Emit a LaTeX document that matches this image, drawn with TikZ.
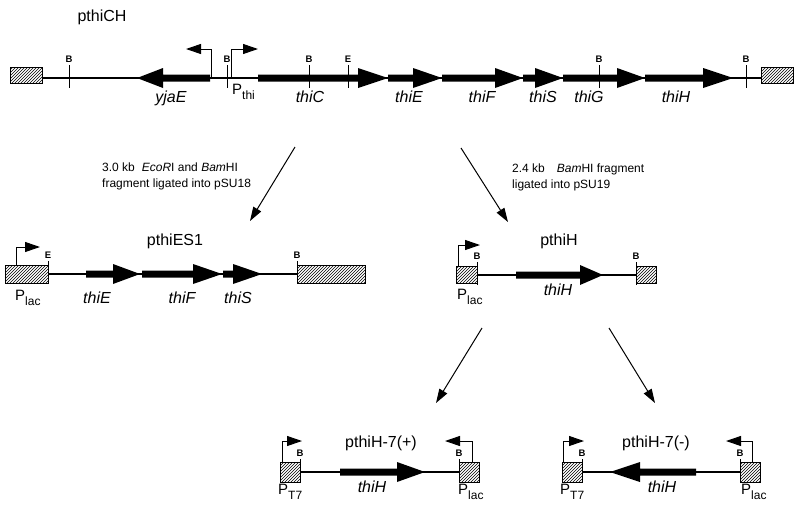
\documentclass[tikz,border=0pt]{standalone}
\usepackage{fontspec}
\setmainfont{Liberation Sans}
\usetikzlibrary{arrows.meta,patterns}

% gene arrow: start, head base, tip, y
\newcommand{\gene}[4]{\fill (#1,#4-3.5) -- (#2,#4-3.5) -- (#2,#4-10) -- (#3,#4) -- (#2,#4+10) -- (#2,#4+3.5) -- (#1,#4+3.5) -- cycle;}
% restriction site: name, x, y, letter
\newcommand{\site}[4]{\draw[cut] (#2,#3-13) -- (#2,#3+10); \node[sitelbl] (#1) at (#2,#3-19) {#4};}
% promoter: x, y, top, tip
\newcommand{\prom}[4]{\draw[promarrow] (#1,#2) |- (#4,#3);}
\newcommand{\prm}[1]{P\raisebox{-5pt}{\fontsize{12}{12}\selectfont #1}}

\begin{document}
\begin{tikzpicture}[x=1pt, y=-1pt,
    backbone/.style={line width=1.4pt},
    cut/.style={line width=0.7pt},
    hatchbox/.style={draw, line width=0.8pt, pattern=north east lines},
    promarrow/.style={line width=1pt, -{Triangle[length=15pt,width=10pt]}},
    clonearrow/.style={line width=1pt, -{Triangle[length=14pt,width=9pt]}},
    sitelbl/.style={font=\fontsize{9.5}{10}\selectfont\bfseries, inner sep=0},
    title/.style={font=\fontsize{16}{18}\selectfont, anchor=base, inner sep=0},
    genename/.style={font=\fontsize{16}{18}\selectfont\itshape, anchor=base, inner sep=0},
    promname/.style={font=\fontsize{15}{17}\selectfont, anchor=base west, inner sep=0},
    note/.style={font=\fontsize{12}{16}\selectfont, align=left, anchor=west, inner sep=0}]

    \useasboundingbox (0,0) rectangle (800,509);

        % pthiCH
    \node (pthiCH) [title] at (102,21) {pthiCH};
    \draw[backbone] (42,78) -- (761,78);
    \draw[hatchbox] (10,67) rectangle (42,83);
    \draw[hatchbox] (761,67) rectangle (793,83);
    \gene{210}{163}{137}{78}
    \gene{258}{358}{388}{78}
    \gene{388}{413}{442}{78}
    \gene{442}{495}{523}{78}
    \gene{523}{535}{563}{78}
    \gene{563}{617}{645}{78}
    \gene{645}{703}{733}{78}
    \prom{211}{78}{49}{186}
    \prom{231}{78}{49}{258}
    \site{ch-b1}{69}{78}{B}
    \site{ch-b2}{227}{78}{B}
    \site{ch-b3}{309}{78}{B}
    \site{ch-e1}{348}{78}{E}
    \site{ch-b4}{599}{78}{B}
    \site{ch-b5}{746}{78}{B}
    \node (ch-yjaE) [genename] at (171,102) {yjaE};
    \node (ch-pthi) [promname] at (232,94) {\prm{thi}};
    \node (ch-thiC) [genename] at (310,102) {thiC};
    \node (ch-thiE) [genename] at (409,102) {thiE};
    \node (ch-thiF) [genename] at (482,102) {thiF};
    \node (ch-thiS) [genename] at (543,102) {thiS};
    \node (ch-thiG) [genename] at (589,102) {thiG};
    \node (ch-thiH) [genename] at (676,102) {thiH};

        % cloning steps
    \node (esnote) [note] at (102,176) {3.0 kb\hspace{7pt}\textit{EcoR}I and \textit{Bam}HI\\fragment ligated into pSU18};
    \node (hnote) [note] at (512,177) {2.4 kb\hspace{12pt}\textit{Bam}HI fragment\\ligated into pSU19};

        % pthiES1
    \node (pthiES1) [title] at (175,245) {pthiES1};
    \draw[backbone] (48,274) -- (297,274);
    \draw[hatchbox] (5,265) rectangle (48,283);
    \draw[hatchbox] (297,265) rectangle (365,283);
    \gene{86}{113}{140}{274}
    \gene{142}{193}{222}{274}
    \gene{223}{233}{262}{274}
    \prom{16}{265}{247}{40}
    \site{es-e}{48}{274}{E}
    \site{es-b}{297}{274}{B}
    \node (es-plac) [promname] at (15,300) {\prm{lac}};
    \node (es-thiE) [genename] at (97,303) {thiE};
    \node (es-thiF) [genename] at (182,303) {thiF};
    \node (es-thiS) [genename] at (238,303) {thiS};

        % pthiH
    \node (pthiH) [title] at (559,245) {pthiH};
    \draw[backbone] (477,275) -- (636,275);
    \draw[hatchbox] (456,266) rectangle (477,283);
    \draw[hatchbox] (636,266) rectangle (656,283);
    \gene{516}{580}{603}{275}
    \prom{458}{266}{245}{480}
    \site{h-b1}{477}{275}{B}
    \site{h-b2}{636}{275}{B}
    \node (h-plac) [promname] at (457,299) {\prm{lac}};
    \node (h-thiH) [genename] at (558,295) {thiH};

        % pthiH-7(+)
    \node (pthiHplus) [title] at (381,447) {pthiH-7(+)};
    \draw[backbone] (300,472) -- (459,472);
    \draw[hatchbox] (280,462) rectangle (300,482);
    \draw[hatchbox] (459,462) rectangle (479,482);
    \gene{340}{397}{425}{472}
    \prom{282}{462}{441}{302}
    \prom{472}{462}{441}{445}
    \site{hp-b1}{300}{472}{B}
    \site{hp-b2}{459}{472}{B}
    \node (hp-pt7) [promname] at (278,494) {\prm{T7}};
    \node (hp-thiH) [genename] at (372,492) {thiH};
    \node (hp-plac) [promname] at (458,494) {\prm{lac}};

        % pthiH-7(-)
    \node (pthiHminus) [title] at (656,447) {pthiH-7(-)};
    \draw[backbone] (582,472) -- (740,472);
    \draw[hatchbox] (562,462) rectangle (582,482);
    \draw[hatchbox] (740,462) rectangle (760,482);
    \gene{696}{640}{610}{472}
    \prom{563}{462}{441}{584}
    \prom{752}{462}{441}{726}
    \site{hm-b1}{582}{472}{B}
    \site{hm-b2}{740}{472}{B}
    \node (hm-pt7) [promname] at (560,494) {\prm{T7}};
    \node (hm-thiH) [genename] at (662,492) {thiH};
    \node (hm-plac) [promname] at (741,494) {\prm{lac}};

        % Arrows
    \coordinate (fromCH1) at (295,147);
    \coordinate (toES1) at (250,221);
    \coordinate (fromCH2) at (461,148);
    \coordinate (toH) at (508,222);
    \coordinate (fromH1) at (482,328);
    \coordinate (toHplus) at (436,403);
    \coordinate (fromH2) at (609,328);
    \coordinate (toHminus) at (655,403);
    \draw [clonearrow] (fromCH1) -- (toES1);
    \draw [clonearrow] (fromCH2) -- (toH);
    \draw [clonearrow] (fromH1) -- (toHplus);
    \draw [clonearrow] (fromH2) -- (toHminus);

\end{tikzpicture}
\end{document}
